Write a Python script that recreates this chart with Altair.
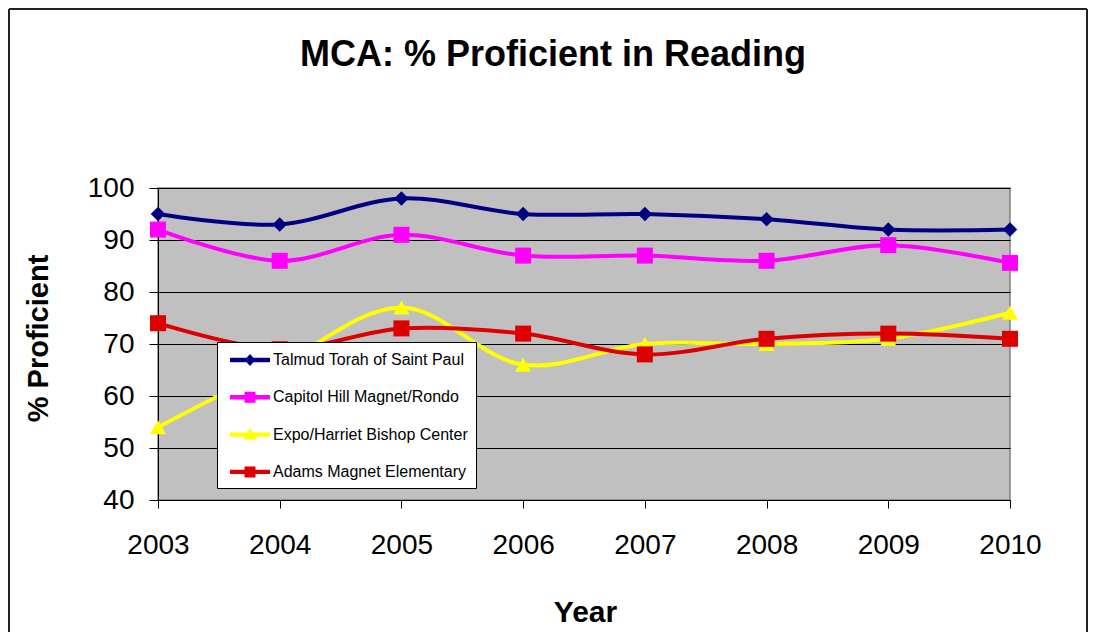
import altair as alt
import pandas as pd

YEARS = [2003, 2004, 2005, 2006, 2007, 2008, 2009, 2010]
SERIES = [
    "Talmud Torah of Saint Paul",
    "Capitol Hill Magnet/Rondo",
    "Expo/Harriet Bishop Center",
    "Adams Magnet Elementary",
]
TALMUD = [95, 93, 98, 95, 95, 94, 92, 92]
CAPITOL = [92, 86, 91, 87, 87, 86, 89, 85.6]
EXPO = [54, 66, 77, 66, 70, 70, 71, 76]
ADAMS = [74, 69, 73, 72, 68, 71, 72, 71]
Y_TICKS = [40, 50, 60, 70, 80, 90, 100]

COLORS = ["#000080", "#FF00FF", "#FFFF00", "#DD0000"]
MARKERS = ["diamond", "square", "triangle-up", "square"]
MARKER_SIZES = [210, 256, 260, 256]
# legend symbols: line segment + marker (unit = 10px)
LINE_SEG = "M-2,-0.22L2,-0.22L2,0.22L-2,0.22Z"
LEGEND_PATHS = [
    LINE_SEG + "M0,-0.6L0.55,0L0,0.6L-0.55,0Z",
    LINE_SEG + "M-0.55,-0.55L0.55,-0.55L0.55,0.55L-0.55,0.55Z",
    LINE_SEG + "M0,-0.65L0.65,0.5L-0.65,0.5Z",
    LINE_SEG + "M-0.55,-0.55L0.55,-0.55L0.55,0.55L-0.55,0.55Z",
]

FONT = "Liberation Sans"

rows = []
for name, vals in zip(SERIES, [TALMUD, CAPITOL, EXPO, ADAMS]):
    for yr, v in zip(YEARS, vals):
        rows.append({"Year": yr, "Value": v, "School": name})
df = pd.DataFrame(rows)

x_enc = alt.X(
    "Year:Q",
    scale=alt.Scale(domain=[2003, 2010], nice=False, zero=False),
    axis=alt.Axis(
        values=YEARS,
        format="d",
        title="Year",
        grid=False,
        labelFontSize=28,
        labelFont=FONT,
        labelColor="black",
        labelBaseline="alphabetic",
        labelPadding=45,
        labelFlush=False,
        labelOverlap=False,
        tickSize=8,
        tickColor="black",
        domainColor="black",
        titleFont=FONT,
        titleFontSize=30,
        titleFontWeight="bold",
        titleColor="black",
        titleX=427,
        titleY=121,
        titleBaseline="alphabetic",
        titleAlign="center",
    ),
)
y_enc = alt.Y(
    "Value:Q",
    scale=alt.Scale(domain=[40, 100], nice=False, zero=False),
    axis=alt.Axis(
        values=Y_TICKS,
        title="% Proficient",
        grid=True,
        gridColor="black",
        gridWidth=1,
        labelFontSize=28,
        labelFont=FONT,
        labelColor="black",
        labelPadding=15,
        labelFlush=False,
        labelOverlap=False,
        tickSize=9,
        tickColor="black",
        domainColor="black",
        titleFont=FONT,
        titleFontSize=29,
        titleFontWeight="bold",
        titleColor="black",
        titleX=-111,
        titleY=150,
        titleAngle=270,
        titleBaseline="alphabetic",
        titleAlign="center",
    ),
)

base = alt.Chart(df)
layers = []
for name, col, mk, ms in zip(SERIES, COLORS, MARKERS, MARKER_SIZES):
    sub = base.transform_filter(alt.datum.School == name)
    layers.append(
        sub.mark_line(color=col, strokeWidth=4, interpolate="catmull-rom").encode(
            x=x_enc, y=y_enc
        )
    )
    layers.append(
        sub.mark_point(
            color=col, filled=True, shape=mk, size=ms, opacity=1, strokeWidth=0
        ).encode(x=x_enc, y=y_enc)
    )

legend_layer = base.mark_point(filled=True, size=0, opacity=1).encode(
    x=x_enc,
    y=y_enc,
    color=alt.Color(
        "School:N",
        scale=alt.Scale(domain=SERIES, range=COLORS),
        sort=SERIES,
        legend=alt.Legend(
            title=None,
            orient="none",
            legendX=59,
            legendY=154,
            fillColor="white",
            strokeColor="black",
            padding=8,
            rowPadding=19.3,
            symbolOffset=15,
            labelOffset=13,
            labelFont=FONT,
            labelFontSize=16,
            labelColor="black",
            labelLimit=400,
            symbolSize=400,
            symbolStrokeWidth=0,
            symbolOpacity=1,
            zindex=2,
        ),
    ),
    shape=alt.Shape(
        "School:N",
        scale=alt.Scale(domain=SERIES, range=LEGEND_PATHS),
        sort=SERIES,
        legend=alt.Legend(
            title=None,
            orient="none",
            legendX=59,
            legendY=154,
        ),
    ),
)

frame_df = pd.DataFrame({"k": [0]})
frame_color = "#222222"
frame = alt.Chart(frame_df)
border_left = frame.mark_rule(color=frame_color, strokeWidth=2).encode(
    x=alt.value(-149), y=alt.value(-179), y2=alt.value(444)
)
border_top = frame.mark_rule(color=frame_color, strokeWidth=2).encode(
    x=alt.value(-149), x2=alt.value(929), y=alt.value(-179)
)
border_right = frame.mark_rule(color=frame_color, strokeWidth=2).encode(
    x=alt.value(929), y=alt.value(-179), y2=alt.value(444)
)

chart = (
    alt.layer(*layers, legend_layer, border_left, border_top, border_right)
    .properties(
        width=852,
        height=312,
        autosize=alt.AutoSizeParams(type="none"),
        padding={"left": 150, "top": 180, "right": 78, "bottom": 132},
        title=alt.TitleParams(
            "MCA: % Proficient in Reading",
            font=FONT,
            fontSize=36,
            fontWeight="bold",
            color="black",
            anchor="middle",
            frame="group",
            dx=-31,
            offset=-94,
            baseline="alphabetic",
        ),
        background="white",
    )
    .configure_view(fill="#C0C0C0", stroke="#808080", strokeWidth=1.5)
)

chart.save("out.html", embed_options={"renderer": "svg", "actions": False})
